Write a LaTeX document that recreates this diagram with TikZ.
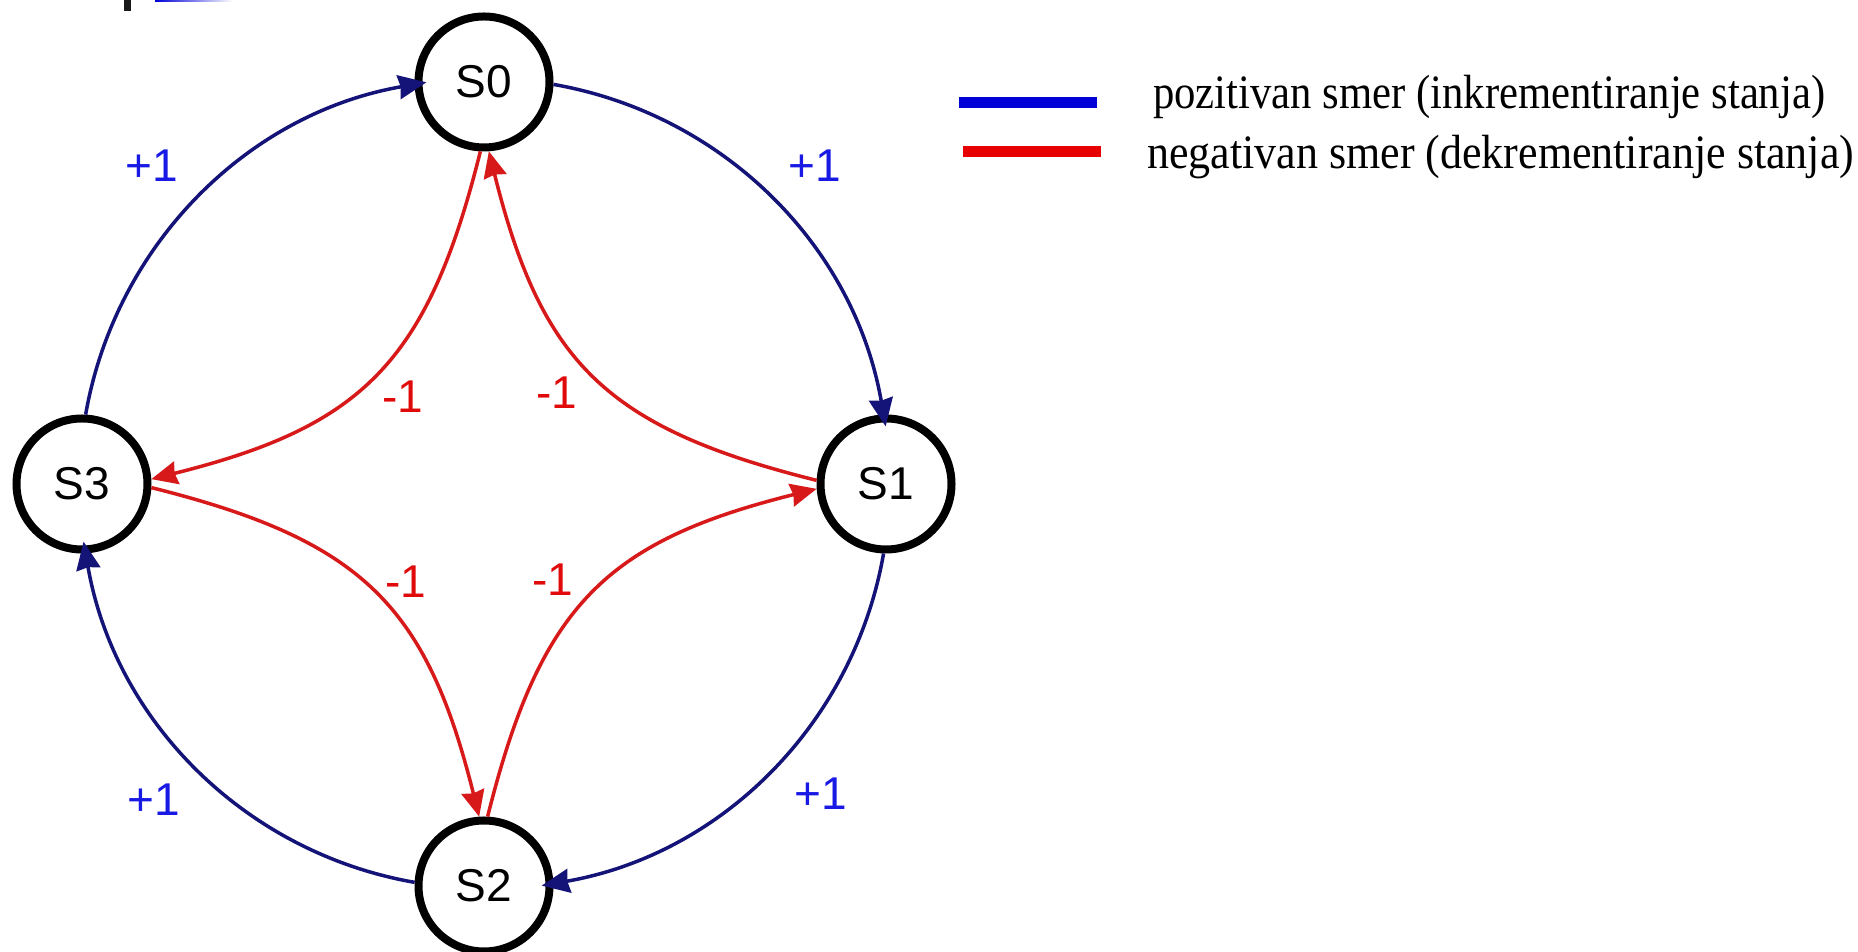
\documentclass[tikz,border=0pt]{standalone}
\usepackage{fontspec}
\setmainfont{Liberation Serif}
\newfontfamily\arialf{Liberation Sans}
\usetikzlibrary{arrows.meta}
\definecolor{navyline}{RGB}{20,20,120}
\definecolor{redline}{RGB}{215,25,25}
\definecolor{lblblue}{RGB}{25,25,230}
\definecolor{lblred}{RGB}{225,10,10}
\definecolor{legblue}{RGB}{0,0,215}
\definecolor{legred}{RGB}{230,0,0}
\begin{document}
\begin{tikzpicture}[x=1pt,y=1pt,
  state/.style={circle, draw=black, line width=8pt, minimum size=131pt, inner sep=0pt, fill=white,
    font=\arialf\fontsize{46}{50}\selectfont},
  posarr/.style={draw=navyline, line width=3.5pt, -{Stealth[length=28pt,width=24pt,inset=2pt]}, shorten >=-12pt},
  negarr/.style={draw=redline, line width=3.5pt, -{Stealth[length=26pt,width=23pt,inset=2pt]}},
  poslbl/.style={text=lblblue, inner sep=0pt, font=\arialf\fontsize{46}{50}\selectfont},
  neglbl/.style={text=lblred, inner sep=0pt, font=\arialf\fontsize{46}{50}\selectfont},
  legtext/.style={anchor=base west, inner sep=0pt, font=\fontsize{48}{52}\selectfont},
  legbar/.style={inner sep=0pt, minimum height=11pt, minimum width=138pt}
]
\useasboundingbox (0,0) rectangle (1858,952);
\fill[white] (0,0) rectangle (1858,952);
% header remnants
\fill[black!90] (124,941) rectangle (131,952);
\shade[left color=blue!85!black, right color=white] (155,950) rectangle (233,952);

% states
\node[state] (S0) at (484,870) {S0};
\node[state] (S1) at (886,468) {S1};
\node[state] (S2) at (484,66) {S2};
\node[state] (S3) at (82,468) {S3};

% positive direction (clockwise)
\draw[posarr] (S0.-2.5) to[out=-9.9, in=99.9, looseness=0.94] (S1.92.5);
\draw[posarr] (S1.-92.5) to[out=-99.9, in=9.9, looseness=0.94] (S2.2.5);
\draw[posarr] (S2.177.5) to[out=170.1, in=-80.1, looseness=0.94] (S3.-87.5);
\draw[posarr] (S3.87.5) to[out=80.1, in=189.9, looseness=0.94] (S0.182.5);

% negative direction
\draw[negarr] (S0.-93) to[out=-104, in=14, looseness=1.2] (S3.4);
\draw[negarr] (S3.-3) to[out=-14, in=104, looseness=1.2] (S2.94);
\draw[negarr] (S2.87) to[out=76, in=194, looseness=1.2] (S1.184);
\draw[negarr] (S1.177) to[out=166, in=-76, looseness=1.2] (S0.-86);

% labels
\node[poslbl] (p1) at (152,786) {+1};
\node[poslbl] (p2) at (815,786) {+1};
\node[poslbl] (p3) at (154,152) {+1};
\node[poslbl] (p4) at (821,158) {+1};
\node[neglbl] (n1) at (403,555) {-1};
\node[neglbl] (n2) at (557,559) {-1};
\node[neglbl] (n3) at (406,370) {-1};
\node[neglbl] (n4) at (553,372) {-1};

% legend
\node[legbar, fill=legblue] (lb1) at (1027.5,849) {};
\node[legbar, fill=legred] (lb2) at (1032,800) {};
\node[legtext] (lt1) at (1153,843) {\resizebox{672pt}{\height}{pozitivan smer (inkrementiranje stanja)}};
\node[legtext] (lt2) at (1147,783) {\resizebox{707pt}{\height}{negativan smer (dekrementiranje stanja)}};
\end{tikzpicture}
\end{document}
